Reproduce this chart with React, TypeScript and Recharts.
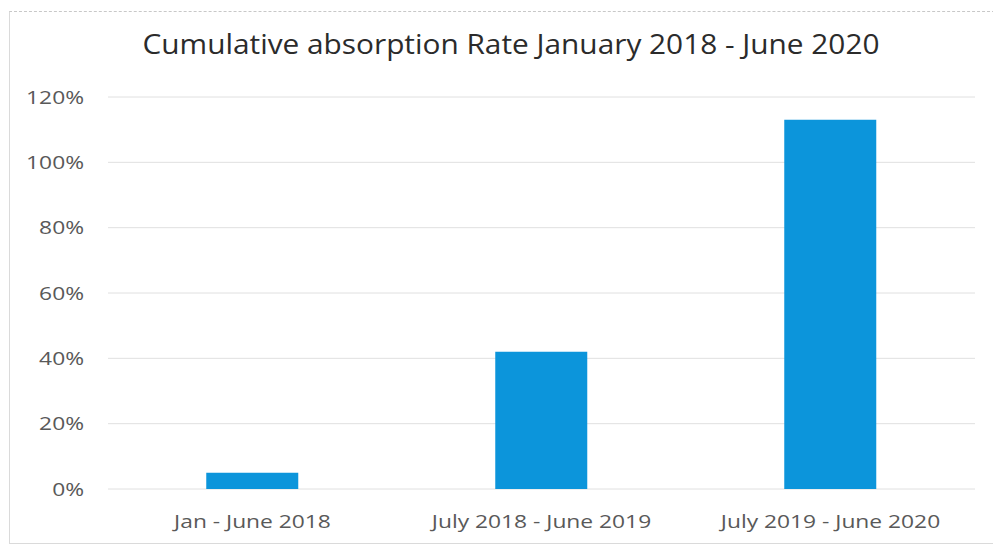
import React from "react";
import { BarChart, Bar, XAxis, YAxis, CartesianGrid } from "recharts";

const periods = ["Jan - June 2018", "July 2018 - June 2019", "July 2019 - June 2020"];
const absorptionRate = [0.05, 0.42, 1.13];
const yTicks = [0, 0.2, 0.4, 0.6, 0.8, 1.0, 1.2];
const chartTitle = "Cumulative absorption Rate January 2018 - June 2020";

const data = periods.map((period, i) => ({ period, rate: absorptionRate[i] }));

const FONT = "'Open Sans', 'Lato', sans-serif";
const STRETCH = 1.2; // the scanned labels are wider than Open Sans

// tick label stretched horizontally around its anchor
const WideTick = ({ x, y, payload, textAnchor, fmt }: any) => (
  <text
    transform={`translate(${x},${y}) scale(${STRETCH},1)`}
    textAnchor={textAnchor} dy="0.355em"
    style={{ fontSize: 19, fill: "#595959", fontFamily: FONT }}
  >
    {fmt ? fmt(payload.value) : payload.value}
  </text>
);

const pct = (v: number) => `${Math.round(v * 100)}%`;

export default function App() {
  return (
    <div style={{ position: "fixed", left: 0, top: 0, width: 993, height: 546, background: "#fff", overflow: "hidden" }}>
      {/* frame of the scanned chart box */}
      <div
        style={{
          position: "absolute", left: 9, top: 11, width: 1000, height: 531,
          borderTop: "1px dashed #c8c8c8", borderLeft: "1px solid #dadada", borderBottom: "1px solid #dadada",
        }}
      />
      <svg width={993} height={546} style={{ position: "absolute", left: 0, top: 0 }}>
        <text
          x={511} y={54} textAnchor="middle" textLength={737} lengthAdjust="spacingAndGlyphs"
          style={{ fontSize: 28, fill: "#2b2b2b", fontFamily: FONT }}
        >
          {chartTitle}
        </text>
      </svg>
      <div style={{ position: "absolute", left: 0, top: 0 }}>
        <BarChart
          width={993} height={546} data={data}
          margin={{ top: 97, right: 18, bottom: 27, left: 8 }}
          barCategoryGap="34%"
        >
          <CartesianGrid stroke="#e0e0e0" vertical={false} />
          <XAxis
            dataKey="period" tick={<WideTick />} tickLine={false} axisLine={false}
            tickSize={0} tickMargin={32} interval={0}
          />
          <YAxis
            width={100} domain={[0, 1.2]} ticks={yTicks} tick={<WideTick fmt={pct} />}
            tickLine={false} axisLine={false} tickSize={0} tickMargin={24}
          />
          <Bar dataKey="rate" fill="#0c95db" isAnimationActive={false} />
        </BarChart>
      </div>
    </div>
  );
}
